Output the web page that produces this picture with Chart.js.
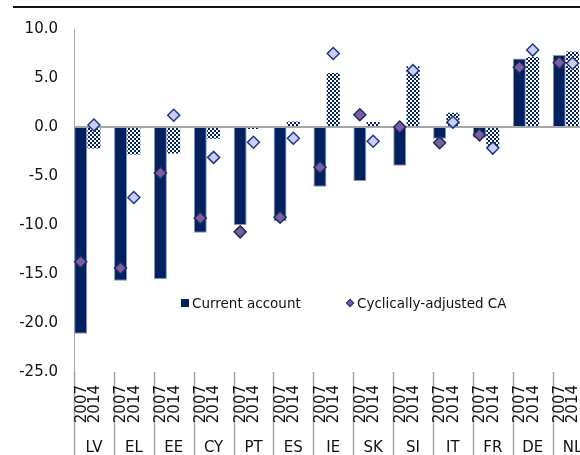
<!DOCTYPE html>
<html>
<head>
<meta charset="utf-8">
<script src="https://cdn.jsdelivr.net/npm/chart.js@4"></script>
<style>
  html, body { margin: 0; padding: 0; background: #fff; overflow: hidden; }
  #wrap { position: relative; width: 580px; height: 455px; overflow: hidden; }
  #topline { position: absolute; left: 13px; top: 6px; width: 580px; border-top: 2px solid #111; }
  #legend { position: absolute; top: 295px; left: 181px; font: 13.5px "DejaVu Sans"; color: #111; white-space: nowrap; }
  #legend span { position: absolute; top: 0; line-height: 16px; }
  .sq { position: absolute; left: 0; top: 4px; width: 8px; height: 8px; background: #002060; }
  .dm { position: absolute; left: 166px; top: 5px; width: 4px; height: 4px; background: #7b5ea0; border: 1px solid #1f2f6f; transform: rotate(45deg); }
</style>
</head>
<body>
<div id="wrap">
  <div id="topline"></div>
  <canvas id="caChart" width="600" height="455"></canvas>
  <div id="legend">
    <div class="sq"></div><span style="left:11px">Current account</span>
    <div class="dm"></div><span style="left:176px">Cyclically-adjusted CA</span>
  </div>
</div>
<script>
const countries = ['LV', 'EL', 'EE', 'CY', 'PT', 'ES', 'IE', 'SK', 'SI', 'IT', 'FR', 'DE', 'NL'];
const years = ['2007', '2014'];
const ca2007 = [-21.1, -15.7, -15.5, -10.8, -10.0, -9.6, -6.1, -5.5, -3.95, -1.2, -1.1, 7.0, 7.35];
const ca2014 = [-2.2, -2.8, -2.7, -1.2, -0.2, 0.55, 5.5, 0.5, 6.2, 1.45, -2.0, 7.15, 7.7];
const caAdj2007 = [-13.75, -14.4, -4.7, -9.3, -10.7, -9.2, -4.1, 1.25, 0.0, -1.6, -0.8, 6.1, 6.55];
const caAdj2014 = [0.2, -7.2, 1.2, -3.1, -1.55, -1.15, 7.5, -1.45, 5.75, 0.5, -2.15, 7.85, 6.5];
const yTicks = [10, 5, 0, -5, -10, -15, -20, -25];

const NAVY = '#002060';
const FONT = 'DejaVu Sans';

// each country gets three slots: 2007, 2014 and a gap
function spread(values, slot) {
    const out = [];
    countries.forEach((c, i) => {
        for (let k = 0; k < 3; k++) out.push(k === slot ? values[i] : null);
    });
    return out;
}
const slotLabels = [];
countries.forEach(() => { slotLabels.push(years[0], years[1], ''); });

// checkered fill for the 2014 bars
function checkerPattern() {
    const c = document.createElement('canvas');
    c.width = 4; c.height = 4;
    const g = c.getContext('2d');
    g.fillStyle = '#fff';
    g.fillRect(0, 0, 4, 4);
    g.fillStyle = NAVY;
    g.fillRect(0, 0, 2, 2);
    g.fillRect(2, 2, 2, 2);
    return g.createPattern(c, 'repeat');
}

// country separators below the plot + vertical year labels
const axisDecor = {
    id: 'axisDecor',
    afterDraw(chart) {
        const s = chart.scales.x;
        const yr = chart.scales.yr;
        const ctx = chart.ctx;
        const step = s.width / countries.length;
        ctx.save();
        ctx.strokeStyle = '#a6a6a6';
        ctx.lineWidth = 1.5;
        for (let k = 0; k <= countries.length; k++) {
            const px = Math.round(s.left + k * step) + 0.5;
            ctx.beginPath();
            ctx.moveTo(px, chart.chartArea.bottom);
            ctx.lineTo(px, chart.height);
            ctx.stroke();
        }
        ctx.fillStyle = '#111';
        ctx.font = '15px "DejaVu Sans"';
        ctx.textAlign = 'right';
        ctx.textBaseline = 'middle';
        slotLabels.forEach((lab, j) => {
            if (!lab) return;
            ctx.save();
            ctx.translate(yr.getPixelForTick(j) + 1, yr.top + 13);
            ctx.rotate(-Math.PI / 2);
            ctx.fillText(lab, 0, 0);
            ctx.restore();
        });
        ctx.restore();
    }
};

function fixHeight(s, h) {
    s.height = h;
    s.paddingLeft = 0;
    s.paddingRight = 0;
}

const ctx = document.getElementById('caChart').getContext('2d');
new Chart(ctx, {
    data: {
        datasets: [
            {
                type: 'line', label: 'Cyclically-adjusted CA 2007', xAxisID: 'yr',
                data: spread(caAdj2007, 0), showLine: false, order: 1,
                pointStyle: 'rectRot', pointRadius: 6, pointBackgroundColor: '#7b5ea0',
                pointBorderColor: '#1f2a5f', pointBorderWidth: 1.5
            },
            {
                type: 'line', label: 'Cyclically-adjusted CA 2014', xAxisID: 'yr',
                data: spread(caAdj2014, 1), showLine: false, order: 1,
                pointStyle: 'rectRot', pointRadius: 6, pointBackgroundColor: '#ccccff',
                pointBorderColor: '#1f3a7a', pointBorderWidth: 1.5
            },
            {
                type: 'bar', label: 'Current account 2007', xAxisID: 'yr',
                data: spread(ca2007, 0), order: 2, grouped: false,
                backgroundColor: NAVY, borderColor: '#8795bb', borderWidth: 1,
                barPercentage: 0.975, categoryPercentage: 1
            },
            {
                type: 'bar', label: 'Current account 2014', xAxisID: 'yr',
                data: spread(ca2014, 1), order: 2, grouped: false,
                backgroundColor: checkerPattern(), borderWidth: 0,
                barPercentage: 0.975, categoryPercentage: 1
            }
        ]
    },
    options: {
        responsive: false,
        animation: false,
        layout: { padding: { top: 29, right: 6, left: 0, bottom: 0 } },
        plugins: { legend: { display: false }, tooltip: { enabled: false } },
        scales: {
            y: {
                min: -25, max: 10,
                afterFit: s => { s.width = 74; },
                afterBuildTicks: s => { s.ticks = yTicks.map(v => ({ value: v })); },
                grid: {
                    drawTicks: false,
                    color: c => c.tick && c.tick.value === 0 ? '#a6a6a6' : 'rgba(0,0,0,0)',
                    lineWidth: c => c.tick && c.tick.value === 0 ? 2 : 0
                },
                border: { color: '#a6a6a6', width: 1 },
                ticks: {
                    padding: 16, color: '#111',
                    font: { family: FONT, size: 15 },
                    callback: v => v.toFixed(1)
                }
            },
            yr: {
                type: 'category', position: 'bottom', labels: slotLabels, offset: true, weight: 1,
                afterFit: s => fixHeight(s, 58),
                grid: { display: false }, border: { display: false },
                ticks: { display: false, autoSkip: false }
            },
            x: {
                type: 'category', position: 'bottom', labels: countries, offset: true, weight: 2,
                afterFit: s => fixHeight(s, 25),
                grid: { display: false }, border: { display: false },
                ticks: { autoSkip: false, padding: 1, color: '#111', font: { family: FONT, size: 15 } }
            }
        }
    },
    plugins: [axisDecor]
});
</script>
</body>
</html>
